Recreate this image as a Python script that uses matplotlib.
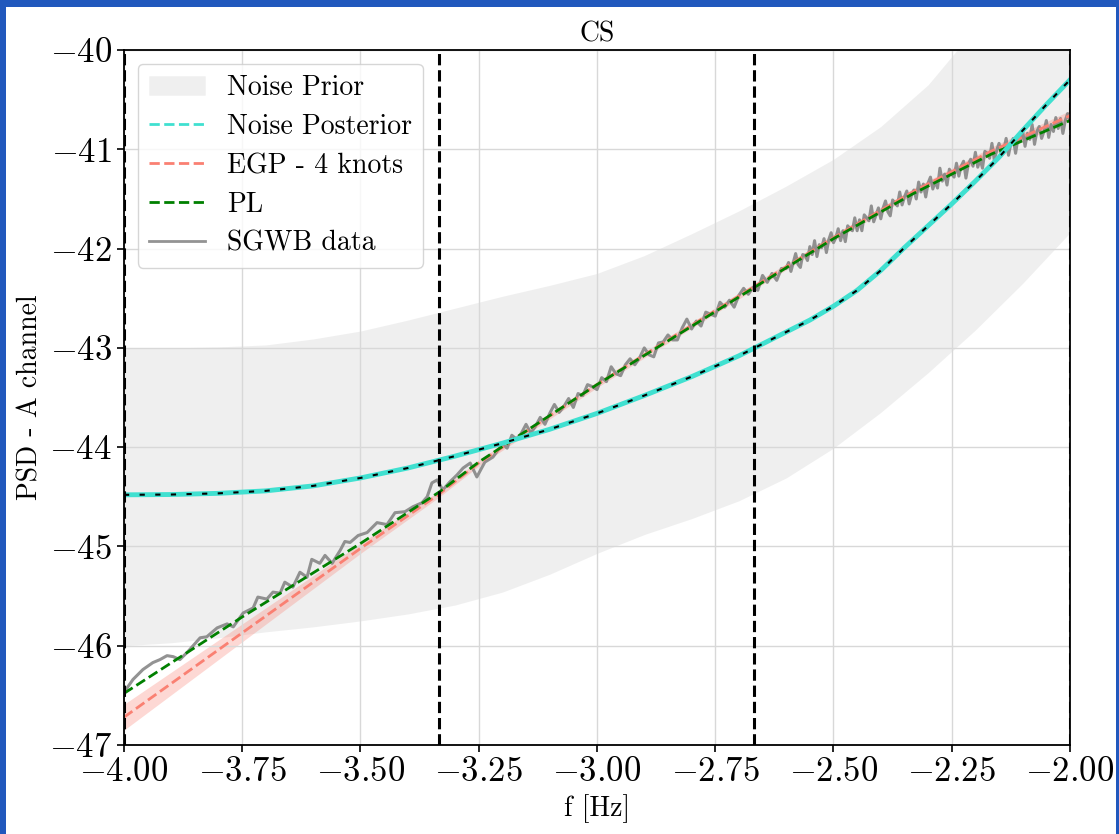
import numpy as np
import matplotlib
matplotlib.use("Agg")
import matplotlib.pyplot as plt
from matplotlib.patches import Patch, Rectangle
from matplotlib.lines import Line2D

plt.rcParams['font.family'] = 'serif'
plt.rcParams['font.serif'] = ['cmr10', 'DejaVu Serif']
plt.rcParams['mathtext.fontset'] = 'cm'
plt.rcParams['axes.formatter.use_mathtext'] = True
plt.rcParams['axes.unicode_minus'] = True

# noise prior band
prior_x = [-4.0, -3.9, -3.8, -3.7, -3.6, -3.5, -3.4, -3.3, -3.2, -3.1, -3.0,
           -2.9, -2.8, -2.7, -2.6, -2.5, -2.4, -2.3, -2.2, -2.1, -2.0]
prior_hi = [-43.00, -43.00, -42.99, -42.97, -42.91, -42.83, -42.72, -42.60, -42.48, -42.37, -42.25,
            -42.07, -41.85, -41.62, -41.37, -41.10, -40.77, -40.35, -39.78, -39.10, -38.35]
prior_lo = [-46.00, -45.97, -45.92, -45.86, -45.81, -45.75, -45.68, -45.59, -45.46, -45.28, -45.07,
            -44.88, -44.72, -44.54, -44.31, -44.01, -43.65, -43.25, -42.82, -42.35, -41.84]

# noise posterior
noise_x = [-4.0, -3.9, -3.8, -3.7, -3.6, -3.5, -3.4, -3.3, -3.2, -3.1, -3.0, -2.9, -2.8,
           -2.7, -2.6, -2.55, -2.5, -2.45, -2.4, -2.35, -2.3, -2.25, -2.2, -2.15, -2.1, -2.05, -2.0]
noise_y = [-44.48, -44.477, -44.465, -44.44, -44.39, -44.31, -44.21, -44.09, -43.96, -43.82, -43.66,
           -43.48, -43.29, -43.08, -42.84, -42.72, -42.58, -42.42, -42.22, -41.99, -41.77, -41.55,
           -41.32, -41.08, -40.81, -40.55, -40.30]

# fits
fit_x = [-4.0, -3.75, -3.5, -3.333, -3.25, -3.0, -2.833, -2.667, -2.5, -2.333, -2.167, -2.0]
pl_y = [-46.48, -45.71, -44.97, -44.45, -44.15, -43.37, -42.88, -42.39, -41.90, -41.45, -41.05, -40.71]
egp_y = [-46.72, -45.87, -45.02, -44.47, -44.16, -43.37, -42.87, -42.38, -41.89, -41.43, -41.02, -40.66]
egp_lo = [-46.85, -45.96, -45.07, -44.50, -44.19, -43.40, -42.90, -42.41, -41.92, -41.46, -41.06, -40.71]
egp_hi = [-46.59, -45.78, -44.97, -44.44, -44.13, -43.34, -42.84, -42.35, -41.86, -41.40, -40.98, -40.61]

# knots
knots = [-4.0, -3.333, -2.667, -2.0]

# SGWB data, low frequency part
data_x1 = [-4.000, -3.981, -3.960, -3.939, -3.924, -3.909, -3.896, -3.882, -3.865, -3.839,
           -3.825, -3.803, -3.782, -3.769, -3.748, -3.727, -3.717, -3.698, -3.685, -3.670,
           -3.660, -3.643, -3.628, -3.613, -3.603, -3.586, -3.575, -3.560, -3.543, -3.533,
           -3.522, -3.505, -3.486, -3.465, -3.444, -3.427, -3.406, -3.389, -3.370, -3.359,
           -3.349, -3.338, -3.326, -3.311, -3.296, -3.283, -3.268, -3.254, -3.237, -3.220]
data_y1 = [-46.47, -46.34, -46.24, -46.17, -46.14, -46.10, -46.11, -46.14, -46.06, -45.92,
           -45.91, -45.82, -45.78, -45.81, -45.67, -45.62, -45.51, -45.53, -45.46, -45.47,
           -45.36, -45.41, -45.26, -45.31, -45.13, -45.17, -45.09, -45.17, -45.04, -44.95,
           -44.96, -44.89, -44.86, -44.76, -44.78, -44.66, -44.65, -44.60, -44.56, -44.50,
           -44.36, -44.33, -44.43, -44.35, -44.28, -44.21, -44.16, -44.30, -44.15, -44.10]

# SGWB data, -3.2 .. -2.6 step 0.01
data_x2 = np.linspace(-3.2, -2.6, 61)
data_y2 = [-43.97, -44.01, -43.88, -43.92, -43.86, -43.77, -43.86, -43.79, -43.70, -43.77,
           -43.66, -43.57, -43.65, -43.59, -43.51, -43.60, -43.46, -43.48, -43.37, -43.39,
           -43.42, -43.30, -43.34, -43.19, -43.26, -43.28, -43.17, -43.11, -43.17, -43.10,
           -43.00, -43.07, -43.09, -42.95, -42.94, -42.87, -42.92, -42.92, -42.80, -42.71,
           -42.81, -42.73, -42.78, -42.64, -42.66, -42.68, -42.54, -42.59, -42.52, -42.59,
           -42.47, -42.40, -42.46, -42.39, -42.42, -42.27, -42.34, -42.25, -42.32, -42.20,
           -42.20]

# SGWB data, -2.595 .. -2.0 step 0.005
data_x3 = np.linspace(-2.595, -2.0, 120)
data_y3 = [-42.14, -42.23, -42.14, -42.05, -42.16, -42.19, -42.06, -42.07, -42.12, -41.98,
           -42.06, -41.92, -42.08, -41.96, -41.99, -41.90, -42.04, -41.91, -41.84, -41.94,
           -41.89, -41.80, -41.92, -41.82, -41.93, -41.77, -41.80, -41.82, -41.69, -41.82,
           -41.71, -41.82, -41.66, -41.69, -41.72, -41.57, -41.73, -41.66, -41.59, -41.70,
           -41.59, -41.52, -41.63, -41.67, -41.51, -41.54, -41.57, -41.43, -41.56, -41.48,
           -41.42, -41.55, -41.46, -41.41, -41.50, -41.33, -41.43, -41.35, -41.48, -41.34,
           -41.28, -41.40, -41.32, -41.39, -41.19, -41.32, -41.25, -41.36, -41.20, -41.25,
           -41.28, -41.14, -41.27, -41.17, -41.12, -41.29, -41.15, -41.10, -41.17, -41.03,
           -41.18, -41.10, -41.19, -41.02, -41.04, -41.09, -40.94, -41.11, -41.01, -40.94,
           -41.06, -41.01, -40.89, -41.06, -40.94, -40.89, -41.04, -40.89, -40.91, -40.82,
           -40.97, -40.84, -40.90, -40.75, -40.95, -40.82, -40.77, -40.89, -40.82, -40.71,
           -40.88, -40.75, -40.82, -40.68, -40.79, -40.69, -40.84, -40.71, -40.64, -40.72]

data_x = np.concatenate([data_x1, data_x2, data_x3])
data_y = np.concatenate([data_y1, data_y2, data_y3])


fig = plt.figure(figsize=(11.19, 8.34), dpi=100)
fig.patch.set_facecolor('white')
# blue screenshot frame
blue = '#2158bd'
fig.patches.append(Rectangle((0, 827/834), 1, 7/834, transform=fig.transFigure, facecolor=blue, edgecolor='none'))
fig.patches.append(Rectangle((0, 0), 6/1119, 1, transform=fig.transFigure, facecolor=blue, edgecolor='none'))
fig.patches.append(Rectangle((1116/1119, 0), 3/1119, 1, transform=fig.transFigure, facecolor=blue, edgecolor='none'))

ax = fig.add_axes([0.1108, 0.1067, 0.8454, 0.8333])

ax.fill_between(prior_x, prior_lo, prior_hi, color='grey', alpha=0.12, lw=0)

ax.plot(data_x, data_y, color='grey', alpha=0.85, lw=2.2)

ax.fill_between(fit_x, egp_lo, egp_hi, color='salmon', alpha=0.3, lw=0)
ax.plot(fit_x, egp_y, '--', color='salmon', lw=2)
ax.plot(fit_x, pl_y, '--', color='green', lw=2)

ax.plot(noise_x, noise_y, '-', color='turquoise', lw=3.5)
ax.plot(noise_x, noise_y, color='black', lw=1.5, dashes=(2.5, 5))

for k in knots:
    ax.axvline(k, color='black', ls='--', lw=2.2)

ax.set_xlim(-4, -2)
ax.set_ylim(-47, -40)
ax.set_xticks([-4.0, -3.75, -3.5, -3.25, -3.0, -2.75, -2.5, -2.25, -2.0])
ax.set_xticklabels(['$-4.00$', '$-3.75$', '$-3.50$', '$-3.25$', '$-3.00$',
                    '$-2.75$', '$-2.50$', '$-2.25$', '$-2.00$'])
ax.set_yticks([-47, -46, -45, -44, -43, -42, -41, -40])
ax.set_yticklabels(['$-47$', '$-46$', '$-45$', '$-44$', '$-43$', '$-42$', '$-41$', '$-40$'])
ax.tick_params(labelsize=25, length=5, width=1.2, direction='out')
ax.grid(True, color='#d8d8d8', lw=1)
for s in ax.spines.values():
    s.set_linewidth(1.3)

ax.set_title('CS', fontsize=20, pad=6)
ax.set_xlabel('f [Hz]', fontsize=20, labelpad=4)
ax.set_ylabel('PSD - A channel', fontsize=20, labelpad=4)

handles = [Patch(facecolor='grey', alpha=0.12, edgecolor='#cccccc', lw=0.5),
           Line2D([], [], color='turquoise', ls='--', lw=2),
           Line2D([], [], color='salmon', ls='--', lw=2),
           Line2D([], [], color='green', ls='--', lw=2),
           Line2D([], [], color='grey', alpha=0.85, lw=2)]
labels = ['Noise Prior', 'Noise Posterior', 'EGP - 4 knots', 'PL', 'SGWB data']
ax.legend(handles, labels, loc='upper left', fontsize=20, handlelength=2.0,
          borderaxespad=0.5, labelspacing=0.45)

fig.savefig('out.png', dpi=100)
